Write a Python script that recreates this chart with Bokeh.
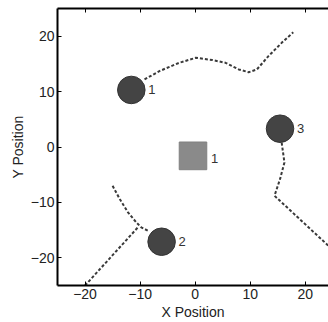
from bokeh.plotting import figure
from bokeh.models import LinearAxis, Range1d, FixedTicker, ColumnDataSource
from bokeh.embed import file_html
from bokeh.resources import INLINE
from bokeh.core.properties import value

# data
circle_x = [-11.6, -6.1, 15.4]
circle_y = [10.3, -17.1, 3.3]
circle_labels = ["1", "2", "3"]
square_x = [-0.4]
square_y = [-1.6]
square_labels = ["1"]

path1_x = [-9.2, -6.5, -2.9, 0.1, 3.1, 5.5, 7.9, 9.7, 11.2, 13.3, 15.7, 17.8]
path1_y = [12.2, 13.7, 15.2, 16.1, 15.7, 15.2, 14.0, 13.5, 14.0, 16.4, 18.8, 20.7]
path2a_x = [-15.0, -13.7, -12.2, -10.7, -9.8, -8.6]
path2a_y = [-7.0, -9.4, -11.8, -13.6, -14.5, -15.1]
path2b_x = [-20.0, -10.4]
path2b_y = [-25.0, -14.5]
path3_x = [15.7, 16.2, 15.4, 14.4, 26.0]
path3_y = [0.8, -2.8, -5.8, -8.8, -19.5]

ticks = [-20, -10, 0, 10, 20]

FONT = "Liberation Sans"

p = figure(width=328, height=322, output_backend="svg", toolbar_location=None,
           x_range=Range1d(-25, 24.2), y_range=Range1d(-25, 25),
           min_border_left=57, min_border_right=0, min_border_top=8, min_border_bottom=34,
           x_axis_label="X Position", y_axis_label="Y Position")
p.outline_line_color = None
p.grid.visible = False
p.background_fill_color = "white"
p.border_fill_color = "white"

for ax in (p.xaxis[0], p.yaxis[0]):
    ax.ticker = FixedTicker(ticks=ticks)
    ax.axis_line_width = 2
    ax.axis_line_color = "black"
    ax.major_tick_in = 4
    ax.major_tick_out = 0
    ax.minor_tick_line_color = None
    ax.major_tick_line_color = "black"
    ax.major_label_text_font = FONT
    ax.major_label_text_font_size = "14px"
    ax.major_label_text_color = "#222222"
    ax.axis_label_text_font = FONT
    ax.axis_label_text_font_size = "14px"
    ax.axis_label_text_font_style = "normal"
    ax.axis_label_text_color = "#222222"
    ax.major_label_standoff = 3
    ax.axis_label_standoff = 2

top = LinearAxis(ticker=FixedTicker(ticks=ticks),
                 major_label_overrides={t: "" for t in ticks},
                 axis_line_width=2, major_tick_in=4, major_tick_out=0,
                 minor_tick_line_color=None, major_label_standoff=0)
p.add_layout(top, "above")

dash = "3 2"
col = "#3a3a3a"
p.line(path1_x, path1_y, line_dash=dash, line_width=2, line_color=col)
p.line(path2a_x, path2a_y, line_dash=dash, line_width=2, line_color=col)
p.line(path2b_x, path2b_y, line_dash=dash, line_width=2, line_color=col)
p.line(path3_x, path3_y, line_dash=dash, line_width=2, line_color=col)

src_c = ColumnDataSource(dict(x=circle_x, y=circle_y, t=circle_labels))
p.circle(x="x", y="y", radius=2.5, source=src_c, fill_color="#444444", line_color="#333333")
p.text(x="x", y="y", text="t", source=src_c, x_offset=17, text_baseline="middle",
       text_font=value(FONT), text_font_size="13px", text_color="#333333")

src_s = ColumnDataSource(dict(x=square_x, y=square_y, t=square_labels))
p.rect(x="x", y="y", width=5, height=5, source=src_s, fill_color="#8a8a8a", line_color="#808080")
p.text(x="x", y="y", text="t", source=src_s, x_offset=18, y_offset=3, text_baseline="middle",
       text_font=value(FONT), text_font_size="13px", text_color="#333333")

open("out.html", "w").write(file_html(p, INLINE))
